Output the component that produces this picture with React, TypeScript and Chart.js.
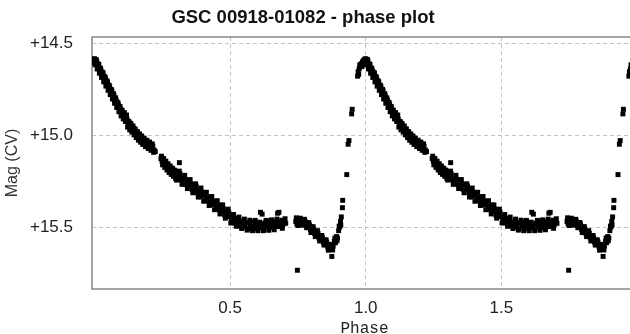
import React, { useEffect, useRef } from "react";
import { Chart, registerables } from "chart.js";

Chart.register(...registerables);

// One cycle of the folded light curve (phase, magnitude)
const cyclePhase = [
  0.000, 0.004, 0.008, 0.012, 0.016, 0.020, 0.024, 0.028, 0.032, 0.036,
  0.040, 0.044, 0.048, 0.052, 0.056, 0.060, 0.064, 0.068, 0.072, 0.076,
  0.080, 0.084, 0.088, 0.092, 0.096, 0.100, 0.104, 0.108, 0.112, 0.116,
  0.120, 0.124, 0.128, 0.132, 0.136, 0.140, 0.144, 0.148, 0.152, 0.156,
  0.160, 0.164, 0.168, 0.172, 0.176, 0.180, 0.185, 0.190, 0.195, 0.200,
  0.205, 0.210, 0.215, 0.220, 0.224,
  0.245, 0.249, 0.253, 0.257, 0.261, 0.265, 0.269, 0.273, 0.277, 0.281,
  0.285, 0.289, 0.293, 0.297,
  0.300, 0.305, 0.310, 0.313, 0.315, 0.320, 0.325, 0.330, 0.335, 0.340, 0.345,
  0.350, 0.355, 0.360, 0.365, 0.370, 0.375, 0.380, 0.385, 0.390, 0.395,
  0.400, 0.405, 0.410, 0.415, 0.420, 0.425, 0.430, 0.435, 0.440, 0.445,
  0.450, 0.455, 0.460, 0.465, 0.470, 0.475, 0.480, 0.485, 0.490, 0.495,
  0.500, 0.505, 0.510, 0.515, 0.520, 0.525, 0.530, 0.535, 0.540, 0.545,
  0.550, 0.555, 0.560, 0.565, 0.570, 0.575, 0.580, 0.585, 0.590, 0.595,
  0.600, 0.605, 0.610, 0.612, 0.615, 0.618, 0.620, 0.625, 0.630, 0.635,
  0.640, 0.645, 0.650, 0.655, 0.660, 0.665, 0.670, 0.675, 0.675, 0.680,
  0.680, 0.685, 0.690, 0.695, 0.700, 0.705,
  0.742, 0.746, 0.748, 0.752, 0.756, 0.760, 0.764, 0.768, 0.772, 0.776,
  0.780, 0.784, 0.788, 0.792, 0.796, 0.800, 0.804, 0.808, 0.812, 0.816,
  0.820, 0.824, 0.828, 0.832, 0.836, 0.840, 0.844, 0.848, 0.852, 0.856,
  0.860, 0.864, 0.868, 0.872, 0.875, 0.876, 0.880, 0.884, 0.888, 0.892,
  0.896, 0.900, 0.904, 0.907, 0.910, 0.914, 0.915, 0.930, 0.935, 0.938,
  0.948, 0.950, 0.970, 0.972, 0.976, 0.980, 0.984, 0.988, 0.992, 0.996,
  // second pass of observations over the same cycle
  0.002, 0.006, 0.010, 0.014, 0.018, 0.022, 0.026, 0.030, 0.034, 0.038,
  0.042, 0.046, 0.050, 0.054, 0.058, 0.062, 0.066, 0.070, 0.074, 0.078,
  0.082, 0.086, 0.090, 0.094, 0.098, 0.102, 0.106, 0.110, 0.114, 0.118,
  0.122, 0.126, 0.130, 0.134, 0.138, 0.142, 0.146, 0.150, 0.154, 0.158,
  0.162, 0.166, 0.170, 0.174, 0.178, 0.183, 0.188, 0.193, 0.198, 0.203,
  0.208, 0.213, 0.218,
  0.247, 0.251, 0.255, 0.259, 0.263, 0.267, 0.271, 0.275, 0.279, 0.283,
  0.287, 0.291, 0.295, 0.299,
  0.744, 0.750, 0.758, 0.766, 0.774, 0.782, 0.790, 0.798, 0.806, 0.814,
  0.822, 0.830, 0.838, 0.846, 0.854, 0.862, 0.870, 0.878, 0.886, 0.894,
  0.902, 0.908,
  0.974, 0.978, 0.986, 0.994, 0.998,
  // third pass
  0.3025, 0.3125, 0.3225, 0.3325, 0.3425, 0.3525, 0.3625, 0.3725, 0.3825, 0.3925,
  0.4025, 0.4125, 0.4225, 0.4325, 0.4425, 0.4525, 0.4625, 0.4725, 0.4825, 0.4925,
  0.5025, 0.5125, 0.5225, 0.5325, 0.5425, 0.5525, 0.5625, 0.5725, 0.5825, 0.5925,
  0.6025, 0.6225, 0.6325, 0.6425, 0.6525, 0.6625, 0.6725, 0.6925, 0.7025,
];

const cycleMag = [
  14.585, 14.606, 14.598, 14.630, 14.618, 14.656, 14.648, 14.678, 14.664, 14.700,
  14.690, 14.724, 14.712, 14.748, 14.738, 14.774, 14.760, 14.796, 14.786, 14.822,
  14.812, 14.846, 14.834, 14.868, 14.858, 14.890, 14.878, 14.908, 14.896, 14.926,
  14.914, 14.940, 14.930, 14.958, 14.948, 14.974, 14.964, 14.990, 14.980, 15.004,
  14.994, 15.018, 15.006, 15.028, 15.018, 15.040, 15.030, 15.052, 15.040, 15.062,
  15.050, 15.072, 15.060, 15.082, 15.090,
  15.128, 15.142, 15.130, 15.158, 15.146, 15.170, 15.160, 15.184, 15.172, 15.196,
  15.182, 15.205, 15.190, 15.214,
  15.225, 15.204, 15.226, 15.150, 15.210, 15.243, 15.235, 15.265, 15.241, 15.270, 15.246,
  15.274, 15.266, 15.297, 15.271, 15.299, 15.277, 15.314, 15.302, 15.336, 15.310,
  15.329, 15.315, 15.353, 15.337, 15.358, 15.336, 15.380, 15.358, 15.377, 15.363,
  15.399, 15.385, 15.406, 15.380, 15.414, 15.402, 15.435, 15.417, 15.443, 15.419,
  15.444, 15.462, 15.445, 15.478, 15.458, 15.478, 15.455, 15.494, 15.473, 15.488,
  15.468, 15.500, 15.478, 15.510, 15.477, 15.496, 15.472, 15.504, 15.486, 15.510,
  15.480, 15.498, 15.474, 15.420, 15.506, 15.430, 15.484, 15.512, 15.478, 15.494,
  15.468, 15.500, 15.481, 15.504, 15.471, 15.494, 15.475, 15.498, 15.425, 15.477,
  15.420, 15.492, 15.463, 15.486, 15.467, 15.480,
  15.470, 15.484, 15.735, 15.462, 15.478, 15.458, 15.474, 15.462, 15.482, 15.468,
  15.490, 15.478, 15.500, 15.488, 15.514, 15.500, 15.526, 15.512, 15.536, 15.524,
  15.548, 15.534, 15.560, 15.546, 15.572, 15.558, 15.584, 15.570, 15.596, 15.582,
  15.608, 15.594, 15.622, 15.610, 15.660, 15.596, 15.604, 15.578, 15.586, 15.552,
  15.560, 15.520, 15.500, 15.470, 15.445, 15.395, 15.355, 15.215, 15.050, 15.030,
  14.885, 14.860, 14.680, 14.655, 14.640, 14.628, 14.612, 14.602, 14.594, 14.588,
  // second pass
  14.618, 14.589, 14.641, 14.613, 14.664, 14.636, 14.687, 14.659, 14.711, 14.682,
  14.734, 14.705, 14.757, 14.729, 14.780, 14.752, 14.804, 14.775, 14.827, 14.798,
  14.850, 14.822, 14.873, 14.845, 14.896, 14.865, 14.912, 14.878, 14.925, 14.891,
  14.957, 14.926, 14.972, 14.937, 14.984, 14.951, 14.999, 14.967, 15.014, 14.981,
  15.028, 14.994, 15.039, 15.005, 15.051, 15.017, 15.063, 15.028, 15.073, 15.038,
  15.083, 15.048, 15.094,
  15.115, 15.162, 15.128, 15.176, 15.142, 15.190, 15.156, 15.204, 15.168, 15.214,
  15.180, 15.224, 15.192, 15.236,
  15.450, 15.492, 15.452, 15.490, 15.458, 15.504, 15.476, 15.530, 15.498, 15.552,
  15.520, 15.576, 15.546, 15.598, 15.570, 15.626, 15.598, 15.625, 15.560, 15.575,
  15.495, 15.490,
  14.670, 14.618, 14.628, 14.606, 14.600,
  // third pass
  15.245, 15.196, 15.268, 15.219, 15.291, 15.242, 15.314, 15.265, 15.337, 15.288,
  15.360, 15.311, 15.383, 15.334, 15.406, 15.357, 15.429, 15.380, 15.452, 15.403,
  15.478, 15.432, 15.496, 15.446, 15.508, 15.457, 15.517, 15.463, 15.520, 15.464,
  15.520, 15.520, 15.464, 15.518, 15.461, 15.515, 15.457, 15.507, 15.455,
];

const xTicks = [0.5, 1.0, 1.5];
const xTickLabels = ["0.5", "1.0", "1.5"];
const yTicks = [14.5, 15.0, 15.5];
const yTickLabels = ["+14.5", "+15.0", "+15.5"];

const X_MIN = -0.0092;
const X_MAX = 2.0;
const Y_MIN = 14.467;
const Y_MAX = 15.837;

const titleText = "GSC 00918-01082 - phase plot";

export default function App() {
  const canvasRef = useRef<HTMLCanvasElement | null>(null);

  useEffect(() => {
    if (!canvasRef.current) return;
    const points: { x: number; y: number }[] = [];
    for (const shift of [-1, 0, 1]) {
      for (let i = 0; i < cyclePhase.length; i++) {
        const x = cyclePhase[i] + shift;
        if (x >= X_MIN && x <= X_MAX) points.push({ x, y: cycleMag[i] });
      }
    }

    const framePlugin = {
      id: "frame",
      beforeDatasetsDraw(chart: any) {
        const { ctx, chartArea } = chart;
        ctx.save();
        ctx.strokeStyle = "#888888";
        ctx.lineWidth = 1.5;
        ctx.beginPath();
        ctx.moveTo(chartArea.right + 2, chartArea.top);
        ctx.lineTo(chartArea.left, chartArea.top);
        ctx.lineTo(chartArea.left, chartArea.bottom);
        ctx.lineTo(chartArea.right + 2, chartArea.bottom);
        ctx.stroke();
        ctx.restore();
      },
      afterDraw(chart: any) {
        const { ctx } = chart;
        ctx.save();
        ctx.fillStyle = "#111111";
        ctx.font = 'bold 18.5px "Liberation Sans", Arial, sans-serif';
        ctx.textAlign = "center";
        ctx.textBaseline = "alphabetic";
        ctx.fillText(titleText, 303, 23);
        ctx.restore();
      },
    };

    const chart = new Chart(canvasRef.current, {
      type: "scatter",
      data: {
        datasets: [
          {
            data: points,
            pointStyle: "rect",
            pointRadius: 3.5,
            pointBorderWidth: 0,
            backgroundColor: "#000000",
            borderColor: "#000000",
          },
        ],
      },
      options: {
        animation: false,
        responsive: false,
        layout: { padding: { top: 37, left: 0, right: 0, bottom: 0 } },
        plugins: {
          legend: { display: false },
          tooltip: { enabled: false },
          title: { display: false },
        },
        scales: {
          x: {
            type: "linear",
            min: X_MIN,
            max: X_MAX,
            afterBuildTicks: (s: any) => {
              s.ticks = xTicks.map((v) => ({ value: v }));
            },
            afterFit: (s: any) => {
              s.height = 45;
            },
            grid: { color: "#c4c4c4", lineWidth: 1, drawTicks: false },
            border: { display: false, dash: [4, 3] },
            ticks: {
              autoSkip: false,
              maxRotation: 0,
              padding: 9,
              color: "#222222",
              font: { family: '"Liberation Sans", Arial, sans-serif', size: 17 },
              callback: (_v: any, i: number) => xTickLabels[i],
            },
            title: {
              display: true,
              text: "Phase",
              color: "#222222",
              font: { family: '"Liberation Mono", "Courier New", monospace', size: 16, lineHeight: 0.6 },
              padding: 0,
            },
          },
          y: {
            type: "linear",
            reverse: true,
            min: Y_MIN,
            max: Y_MAX,
            afterBuildTicks: (s: any) => {
              s.ticks = yTicks.map((v) => ({ value: v }));
            },
            afterFit: (s: any) => {
              s.width = 92;
            },
            grid: { color: "#c4c4c4", lineWidth: 1, drawTicks: false },
            border: { display: false, dash: [4, 3] },
            ticks: {
              padding: 19,
              color: "#222222",
              font: { family: '"Liberation Sans", Arial, sans-serif', size: 17 },
              callback: (_v: any, i: number) => yTickLabels[i],
            },
            title: {
              display: true,
              text: "Mag (CV)",
              color: "#333333",
              font: { family: '"Liberation Sans", Arial, sans-serif', size: 16, lineHeight: 1.2 },
              padding: { top: 3, bottom: 0 },
            },
          },
        },
      },
      plugins: [framePlugin],
    });

    return () => chart.destroy();
  }, []);

  return (
    <div
      style={{
        position: "fixed",
        left: 0,
        top: 0,
        width: 630,
        height: 334,
        overflow: "hidden",
        background: "#ffffff",
      }}
    >
      <canvas ref={canvasRef} width={641} height={334} style={{ width: 641, height: 334, display: "block" }} />
    </div>
  );
}
